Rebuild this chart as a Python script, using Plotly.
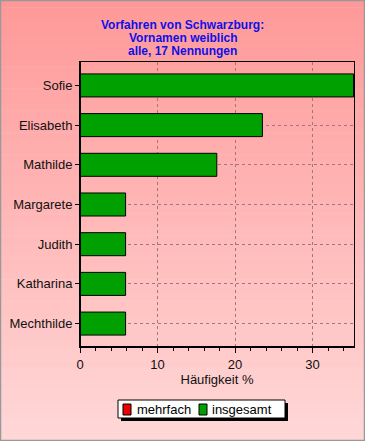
import plotly.graph_objects as go

names = ["Sofie", "Elisabeth", "Mathilde", "Margarete", "Judith", "Katharina", "Mechthilde"]
insgesamt = [35.29, 23.53, 17.65, 5.88, 5.88, 5.88, 5.88]
mehrfach = [None] * 7
x_ticks = [0, 10, 20, 30]
title_lines = ["Vorfahren von Schwarzburg:", "Vornamen weiblich", "alle, 17 Nennungen"]
legend_names = ["mehrfach", "insgesamt"]
legend_colors = ["#EE0000", "#00A000"]

W, H = 365, 441
L, R, T, B = 80, 11, 62, 94
pw, ph = W - L - R, H - T - B
FONT = "Liberation Sans, Arial, sans-serif"

def px(xp):
    return (xp - L) / pw

def py(yp):
    return (H - B - yp) / ph

fig = go.Figure()
fig.add_trace(go.Bar(y=names, x=mehrfach, orientation="h", name=legend_names[0],
                     marker=dict(color=legend_colors[0], line=dict(color="black", width=1))))
fig.add_trace(go.Bar(y=names, x=insgesamt, orientation="h", name=legend_names[1],
                     marker=dict(color=legend_colors[1], line=dict(color="black", width=1)), width=0.58))

shapes = []
# gradient background
n = 60
top = (255, 153, 153)
bot = (255, 215, 215)
for i in range(n):
    f = i / (n - 1)
    c = tuple(int(round(top[k] + (bot[k] - top[k]) * f)) for k in range(3))
    y0p = H * i / n
    y1p = H * (i + 1) / n + 0.5
    shapes.append(dict(type="rect", xref="paper", yref="paper",
                       x0=px(0), x1=px(W), y0=py(y1p), y1=py(y0p),
                       fillcolor="rgb(%d,%d,%d)" % c, line=dict(width=0), layer="below"))
# outer border
shapes.append(dict(type="rect", xref="paper", yref="paper",
                   x0=px(0.5), x1=px(W - 0.5), y0=py(H - 0.5), y1=py(0.5),
                   line=dict(color="#999999", width=1.5), layer="above"))
# thicker left and bottom axis lines
shapes.append(dict(type="line", xref="paper", yref="paper", x0=0, x1=0, y0=0, y1=1,
                   line=dict(color="black", width=2), layer="above"))
shapes.append(dict(type="line", xref="paper", yref="paper", x0=0, x1=1, y0=0, y1=0,
                   line=dict(color="black", width=2), layer="above"))
# manual legend: shadow, box, swatches
shapes.append(dict(type="rect", xref="paper", yref="paper",
                   x0=px(121), x1=px(288), y0=py(421), y1=py(403),
                   fillcolor="black", line=dict(width=0), layer="above"))
shapes.append(dict(type="rect", xref="paper", yref="paper",
                   x0=px(118), x1=px(285), y0=py(418), y1=py(400),
                   fillcolor="white", line=dict(color="black", width=1), layer="above"))
sw_x = [123, 199]
txt_x = [135, 210]
annotations = []
for i, nm in enumerate(legend_names):
    shapes.append(dict(type="rect", xref="paper", yref="paper",
                       x0=px(sw_x[i]), x1=px(sw_x[i] + 8), y0=py(415), y1=py(404),
                       fillcolor=legend_colors[i], line=dict(color="black", width=1), layer="above"))
    annotations.append(dict(text=nm, xref="paper", yref="paper", x=px(txt_x[i]), y=py(409.5),
                            xanchor="left", yanchor="middle", showarrow=False,
                            font=dict(size=13, color="black", family=FONT)))
# title lines
for i, t in enumerate(title_lines):
    annotations.append(dict(text="<b>%s</b>" % t, xref="paper", yref="paper",
                            x=px(W / 2), y=py(25 + 13 * i), xanchor="center", yanchor="middle",
                            showarrow=False,
                            font=dict(size=12, color="#1010E8", family=FONT)))

fig.update_layout(
    width=W, height=H,
    margin=dict(l=L, r=R, t=T, b=B, autoexpand=False),
    paper_bgcolor="rgba(0,0,0,0)",
    plot_bgcolor="rgba(0,0,0,0)",
    font=dict(family=FONT, size=13, color="#111111"),
    barmode="overlay",
    showlegend=False,
    shapes=shapes,
    annotations=annotations,
    xaxis=dict(range=[0, 35.35], tickvals=x_ticks, ticks="outside", ticklen=5, tickcolor="black",
               showline=True, linecolor="black", linewidth=1, mirror=True,
               showgrid=True, gridcolor="#A07878", griddash="3px,3px", gridwidth=1,
               zeroline=False, automargin=False,
               minor=dict(dtick=2, ticks="outside", ticklen=3, tickcolor="black", showgrid=False),
               title=dict(text="Häufigkeit %", standoff=4, font=dict(size=13))),
    yaxis=dict(categoryorder="array", categoryarray=names[::-1], range=[-0.59, 6.59],
               ticks="outside", ticklen=4, tickcolor="black",
               showline=True, linecolor="black", linewidth=1, mirror=True,
               showgrid=True, gridcolor="#A07878", griddash="3px,3px", gridwidth=1,
               zeroline=False, automargin=False),
)

fig.write_html("out.html", config={"displayModeBar": False},
               post_script="document.body.style.margin='0';document.body.style.overflow='hidden';")
